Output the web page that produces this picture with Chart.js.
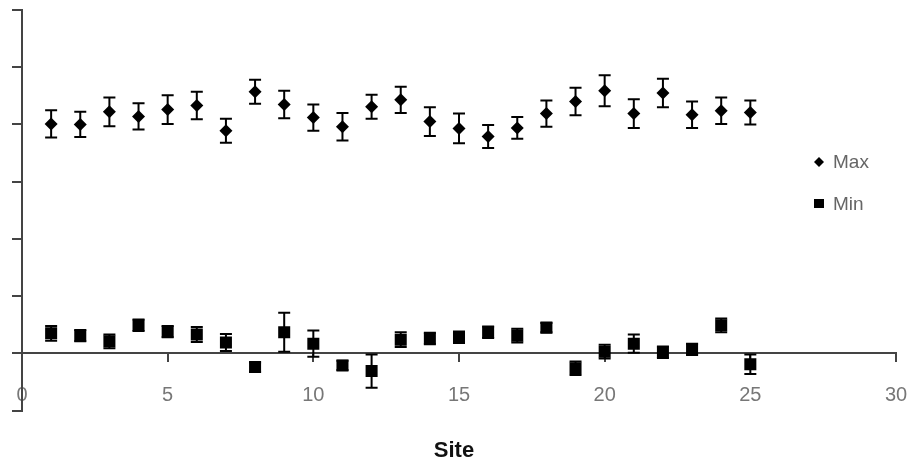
<!DOCTYPE html>
<html lang="en">
<head>
    <meta charset="UTF-8">
    <title>Max / Min by Site</title>
    <style>
        body {
            margin: 0;
            padding: 0;
            background-color: #fff;
        }
        canvas {
            display: block;
        }
    </style>
</head>
<body>

<canvas id="siteChart" width="918" height="467"></canvas>

<script src="https://cdn.jsdelivr.net/npm/chart.js"></script>

<script>
    // data
    const sites = [1, 2, 3, 4, 5, 6, 7, 8, 9, 10, 11, 12, 13, 14, 15, 16, 17, 18, 19, 20, 21, 22, 23, 24, 25];
    const maxValues = [4.01, 4.00, 4.22, 4.14, 4.26, 4.33, 3.89, 4.57, 4.35, 4.12, 3.96, 4.31, 4.43,
                       4.05, 3.93, 3.79, 3.94, 4.19, 4.40, 4.59, 4.19, 4.55, 4.17, 4.24, 4.21];
    const maxErrors = [0.24, 0.22, 0.25, 0.23, 0.25, 0.24, 0.21, 0.21, 0.24, 0.23, 0.24, 0.21, 0.23,
                       0.25, 0.26, 0.20, 0.19, 0.23, 0.24, 0.27, 0.25, 0.25, 0.23, 0.23, 0.21];
    const minValues = [0.35, 0.31, 0.21, 0.49, 0.38, 0.33, 0.19, -0.24, 0.37, 0.17, -0.21, -0.31, 0.24,
                       0.26, 0.28, 0.37, 0.31, 0.45, -0.26, 0.03, 0.17, 0.02, 0.07, 0.49, -0.19];
    const minErrors = [0.13, 0.10, 0.12, 0.10, 0.10, 0.13, 0.15, 0.08, 0.34, 0.23, 0.08, 0.29, 0.13,
                       0.10, 0.10, 0.10, 0.12, 0.08, 0.12, 0.12, 0.16, 0.10, 0.10, 0.12, 0.17];
    const xTicks = { min: 0, max: 30, step: 5 };
    const yTicks = { min: -1, max: 6, step: 1 };

    const axisColor = '#444';
    const fontFamily = '"Liberation Sans", Arial, sans-serif';

    function toPoints(xs, ys, errs) {
        return xs.map((x, i) => ({ x: x, y: ys[i], err: errs[i] }));
    }

    // vertical error bars with caps, drawn from the y scale
    const errorBars = {
        id: 'errorBars',
        afterDatasetsDraw(chart) {
            const ctx = chart.ctx;
            const yScale = chart.scales.y;
            ctx.save();
            ctx.strokeStyle = '#000';
            ctx.lineWidth = 2;
            chart.data.datasets.forEach((ds, di) => {
                const meta = chart.getDatasetMeta(di);
                meta.data.forEach((pt, i) => {
                    const d = ds.data[i];
                    const top = yScale.getPixelForValue(d.y + d.err);
                    const bottom = yScale.getPixelForValue(d.y - d.err);
                    ctx.beginPath();
                    ctx.moveTo(pt.x, top);
                    ctx.lineTo(pt.x, bottom);
                    ctx.moveTo(pt.x - 6, top);
                    ctx.lineTo(pt.x + 6, top);
                    ctx.moveTo(pt.x - 6, bottom);
                    ctx.lineTo(pt.x + 6, bottom);
                    ctx.stroke();
                });
            });
            ctx.restore();
        }
    };

    // small legend sitting inside the plot on the right
    const insideLegend = {
        id: 'insideLegend',
        afterDraw(chart) {
            const ctx = chart.ctx;
            const x = 819;
            let y = 162;
            ctx.save();
            ctx.font = '19px ' + fontFamily;
            ctx.textBaseline = 'middle';
            chart.data.datasets.forEach(ds => {
                ctx.fillStyle = '#000';
                ctx.beginPath();
                if (ds.pointStyle === 'rectRot') {
                    ctx.moveTo(x, y - 5);
                    ctx.lineTo(x + 5, y);
                    ctx.lineTo(x, y + 5);
                    ctx.lineTo(x - 5, y);
                    ctx.closePath();
                } else {
                    ctx.rect(x - 5, y - 5, 10, 9);
                }
                ctx.fill();
                ctx.fillStyle = '#666';
                ctx.fillText(ds.label, x + 14, y + 1);
                y += 42;
            });
            ctx.restore();
        }
    };

    const ctx = document.getElementById('siteChart').getContext('2d');
    const siteChart = new Chart(ctx, {
        type: 'scatter',
        data: {
            datasets: [{
                label: 'Max',
                data: toPoints(sites, maxValues, maxErrors),
                pointStyle: 'rectRot',
                pointRadius: 6.5,
                backgroundColor: '#000',
                borderColor: '#000',
                borderWidth: 0
            }, {
                label: 'Min',
                data: toPoints(sites, minValues, minErrors),
                pointStyle: 'rect',
                pointRadius: 8.5,
                backgroundColor: '#000',
                borderColor: '#000',
                borderWidth: 0
            }]
        },
        options: {
            responsive: false,
            animation: false,
            devicePixelRatio: 1,
            layout: {
                padding: { left: 12, right: 22, top: 10, bottom: 0 }
            },
            plugins: {
                legend: { display: false },
                tooltip: { enabled: false },
                title: {
                    display: true,
                    position: 'bottom',
                    text: 'Site',
                    color: '#111',
                    font: { family: fontFamily, size: 22, weight: 'bold' },
                    padding: { top: 27, bottom: 3 }
                }
            },
            scales: {
                x: {
                    type: 'linear',
                    position: { y: 0 },
                    min: xTicks.min,
                    max: xTicks.max,
                    // labels hang over the ends, don't let them shrink the plot
                    afterFit(scale) {
                        scale.paddingLeft = 0;
                        scale.paddingRight = 0;
                    },
                    ticks: {
                        stepSize: xTicks.step,
                        padding: 22,
                        color: '#777',
                        font: { family: fontFamily, size: 20 }
                    },
                    grid: {
                        drawOnChartArea: false,
                        tickLength: 8,
                        color: axisColor,
                        lineWidth: 2
                    },
                    border: { display: true, color: axisColor, width: 2 }
                },
                y: {
                    min: yTicks.min,
                    max: yTicks.max,
                    ticks: {
                        stepSize: yTicks.step,
                        display: false
                    },
                    grid: {
                        drawOnChartArea: false,
                        tickLength: 10,
                        color: axisColor,
                        lineWidth: 2
                    },
                    border: { display: true, color: axisColor, width: 2 }
                }
            }
        },
        plugins: [errorBars, insideLegend]
    });
</script>

</body>
</html>
